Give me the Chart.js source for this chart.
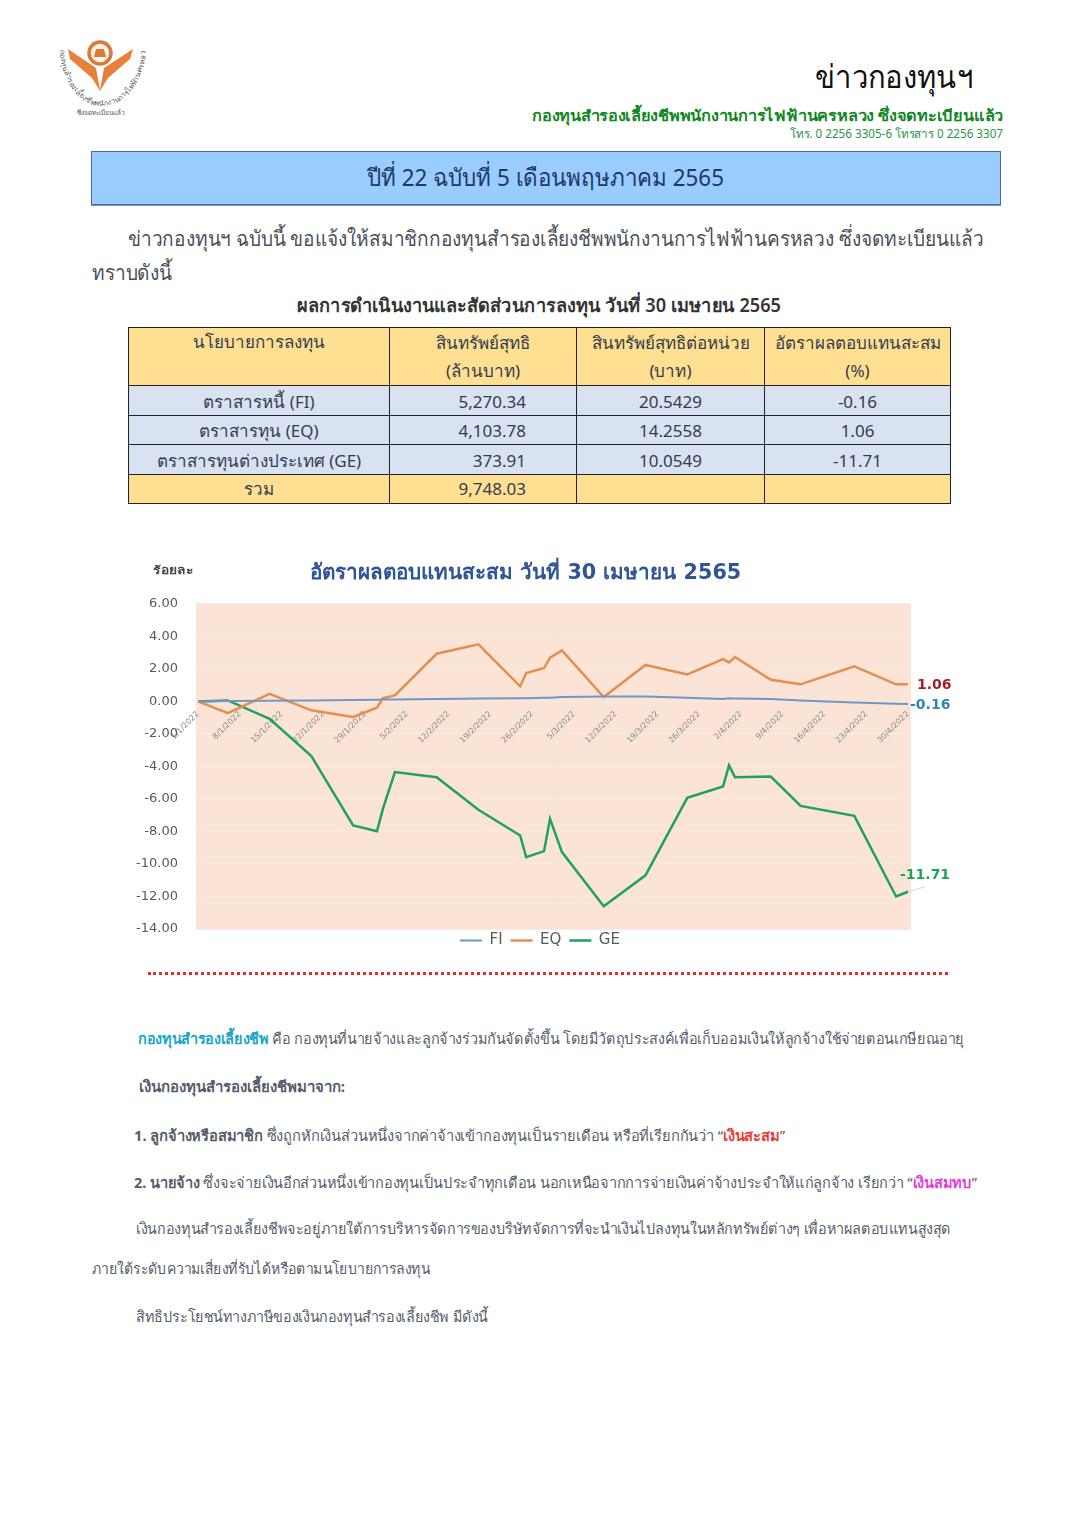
<!DOCTYPE html>
<html lang="th"><head><meta charset="utf-8">
<script src="https://cdn.jsdelivr.net/npm/chart.js@4"></script>
<style>
html,body{margin:0;padding:0;background:#fff;width:1076px;height:1521px;overflow:hidden;font-family:"Noto Sans","DejaVu Sans",sans-serif}
#page{position:relative;width:1076px;height:1521px;overflow:hidden}
.t{position:absolute;white-space:nowrap;line-height:1;transform-origin:0 50%;color:#4a4f57}
#banner{position:absolute;left:91px;top:151px;width:908px;height:52px;background:#99CCFF;border:1px solid #4A66AC;box-shadow:0 1px 0 #7f8fb5}
table{position:absolute;left:128px;top:327px;width:822px;height:176px;border-collapse:collapse;table-layout:fixed;color:#333c4d;font-size:17px}
td{border:1px solid #222;text-align:center;padding:1px 0 0;background:#D9E2F3;line-height:1;box-sizing:border-box}
tr.h td{background:#FFDF91;vertical-align:middle;line-height:28px;padding:0}
td.r{text-align:right;padding-right:50px}
tr.h td.r{padding:0 50px 0 0}
#dots{position:absolute;left:148px;top:972px;width:800px;border-top:3px dotted #E22B2B}
canvas{position:absolute;left:120px;top:550px}
svg{position:absolute;left:40px;top:30px}
</style></head><body><div id="page">
<svg width="120" height="95" viewBox="40 30 120 95">
 <defs><path id="arc" d="M60 50 C62 92 90 108 102 106 C118 106 142 92 146 50"/></defs>
 <circle cx="100" cy="53" r="11" fill="#fdf3e2" stroke="#D9793A" stroke-width="3.5"/>
 <path d="M94 57h12l-2-8h-8z" fill="#D9793A"/>
 <path d="M68 49 L96 68 L100 90 L104 68 L133 49 L130 59 L108 78 L100 91 L92 78 L70 59Z" fill="#E8803A"/>
 <text font-size="7.4" fill="#5a5a5a"><textPath href="#arc" startOffset="0">กองทุนสำรองเลี้ยงชีพพนักงานการไฟฟ้านครหลวง</textPath></text>
 <text x="101" y="115" font-size="6.5" text-anchor="middle" fill="#555">ซึ่งจดทะเบียนแล้ว</text>
</svg>
<div id="banner"></div>
<table>
<colgroup><col style="width:261px"><col style="width:187px"><col style="width:188px"><col style="width:186px"></colgroup>
<tr class="h" style="height:58px"><td style="vertical-align:top">นโยบายการลงทุน</td><td>สินทรัพย์สุทธิ<br>(ล้านบาท)</td><td>สินทรัพย์สุทธิต่อหน่วย<br>(บาท)</td><td>อัตราผลตอบแทนสะสม<br>(%)</td></tr>
<tr style="height:30px"><td>ตราสารหนี้ (FI)</td><td class="r">5,270.34</td><td>20.5429</td><td>-0.16</td></tr>
<tr style="height:29px"><td>ตราสารทุน (EQ)</td><td class="r">4,103.78</td><td>14.2558</td><td>1.06</td></tr>
<tr style="height:30px"><td>ตราสารทุนต่างประเทศ (GE)</td><td class="r">373.91</td><td>10.0549</td><td>-11.71</td></tr>
<tr class="h" style="height:29px"><td>รวม</td><td class="r">9,748.03</td><td></td><td></td></tr>
</table>
<div id="dots"></div>
<canvas id="c" width="840" height="417" style="width:840px;height:417px"></canvas>
</div>
<script>
// ---- chart data ----
const pointDays = [0,5,12,19,26,30,31,33,40,47,54,55,58,59,61,68,75,82,88,89,90,96,101,110,117,119];
const fiValues = [0,0.02,0.04,0.05,0.08,0.10,0.11,0.12,0.15,0.18,0.20,0.20,0.22,0.23,0.27,0.30,0.30,0.22,0.15,0.19,0.17,0.15,0.05,-0.07,-0.15,-0.16];
const eqValues = [0,-0.72,0.47,-0.55,-0.96,-0.39,0.20,0.37,2.93,3.51,0.92,1.74,2.05,2.69,3.14,0.27,2.24,1.66,2.60,2.40,2.73,1.33,1.05,2.15,1.05,1.06];
const geValues = [0,0.06,-1.07,-3.36,-7.63,-7.98,-6.60,-4.35,-4.66,-6.67,-8.25,-9.58,-9.21,-7.22,-9.27,-12.60,-10.70,-5.93,-5.23,-3.94,-4.66,-4.62,-6.43,-7.04,-12.00,-11.71];
const tickDays = [0,7,14,21,28,35,42,49,56,63,70,77,84,91,98,105,112,119];
const tickLabels = ["1/1/2022","8/1/2022","15/1/2022","22/1/2022","29/1/2022","5/2/2022","12/2/2022","19/2/2022","26/2/2022","5/3/2022","12/3/2022","19/3/2022","26/3/2022","2/4/2022","9/4/2022","16/4/2022","23/4/2022","30/4/2022"];
const seriesNames = ["FI","EQ","GE"];
const endLabels = ["-0.16","1.06","-11.71"];

// ---- page text ----
const page = document.getElementById('page');
function T(x0,x1,cy,size,html,css){
  const e=document.createElement('div');e.className='t';e.innerHTML=html;
  e.style.cssText=`left:${x0}px;font-size:${size}px;${css||''}`;
  page.appendChild(e);
  const h=e.getBoundingClientRect().height, w=e.getBoundingClientRect().width;
  e.style.top=(cy-h/2)+'px';
  e.style.transform=`scaleX(${(x1-x0)/w})`;
}
const B='#1F3864';
T(815,973,76,32,'ข่าวกองทุนฯ','color:#111');
T(532,1003,115,15,'กองทุนสำรองเลี้ยงชีพพนักงานการไฟฟ้านครหลวง ซึ่งจดทะเบียนแล้ว','color:#12871f;font-weight:700');
T(790,1003,134,12,'โทร. 0 2256 3305-6 โทรสาร 0 2256 3307','color:#2f9445');
T(367,724,177,24,'ปีที่ 22 ฉบับที่ 5 เดือนพฤษภาคม 2565','color:'+B);
T(128,984,238,21,'ข่าวกองทุนฯ ฉบับนี้ ขอแจ้งให้สมาชิกกองทุนสำรองเลี้ยงชีพพนักงานการไฟฟ้านครหลวง ซึ่งจดทะเบียนแล้ว');
T(92,172,272,21,'ทราบดังนี้');
T(297,781,305,19,'ผลการดำเนินงานและสัดส่วนการลงทุน วันที่ 30 เมษายน 2565','color:#333;font-weight:600');
T(153,193,569,11,'ร้อยละ','color:#444;font-weight:700');
const G='#555d6b';
T(138,964,1038,15,'<b style="color:#1AA6C8">กองทุนสำรองเลี้ยงชีพ</b> คือ กองทุนที่นายจ้างและลูกจ้างร่วมกันจัดตั้งขึ้น โดยมีวัตถุประสงค์เพื่อเก็บออมเงินให้ลูกจ้างใช้จ่ายตอนเกษียณอายุ','color:'+G);
T(139,345,1086,15,'<b>เงินกองทุนสำรองเลี้ยงชีพมาจาก:</b>','color:'+G);
T(134,785,1135,15,'<b>1. ลูกจ้างหรือสมาชิก</b> ซึ่งถูกหักเงินส่วนหนึ่งจากค่าจ้างเข้ากองทุนเป็นรายเดือน หรือที่เรียกกันว่า “<b style="color:#E2413B">เงินสะสม</b>”','color:'+G);
T(134,977,1182,15,'<b>2. นายจ้าง</b> ซึ่งจะจ่ายเงินอีกส่วนหนึ่งเข้ากองทุนเป็นประจำทุกเดือน นอกเหนือจากการจ่ายเงินค่าจ้างประจำให้แก่ลูกจ้าง เรียกว่า “<b style="color:#E040D8">เงินสมทบ</b>”','color:'+G);
T(136,951,1228,15,'เงินกองทุนสำรองเลี้ยงชีพจะอยู่ภายใต้การบริหารจัดการของบริษัทจัดการที่จะนำเงินไปลงทุนในหลักทรัพย์ต่างๆ เพื่อหาผลตอบแทนสูงสุด','color:'+G);
T(92,430,1268,15,'ภายใต้ระดับความเสี่ยงที่รับได้หรือตามนโยบายการลงทุน','color:'+G);
T(136,488,1316,15,'สิทธิประโยชน์ทางภาษีของเงินกองทุนสำรองเลี้ยงชีพ มีดังนี้','color:'+G);

// ---- chart ----
const FF='"DejaVu Sans","Noto Sans",sans-serif';
const colors=['#6F97C8','#E38F52','#20A25A'];
const widths=[2,2.5,2.5];
const toPts=a=>a.map((v,i)=>({x:pointDays[i],y:v}));
const plotBg={id:'plotBg',beforeDraw(ch){const a=ch.chartArea,c=ch.ctx;c.save();c.fillStyle='#FBE4D5';c.fillRect(a.left,a.top,a.width,a.height);c.restore();}};
const legendLift={id:'legendLift',afterLayout(ch){ch.legend.top-=4;ch.legend.bottom-=4;}};
const endText={id:'endText',afterDraw(ch){
  const c=ch.ctx,x=ch.scales.x,y=ch.scales.y;c.save();
  c.font='bold 14px '+FF;c.textBaseline='middle';c.textAlign='left';
  const last=pointDays[pointDays.length-1],px=x.getPixelForValue(last);
  c.fillStyle='#A01F2B';c.fillText(endLabels[1],px+9,y.getPixelForValue(eqValues[eqValues.length-1])+1);
  c.fillStyle='#2E86B5';c.fillText(endLabels[0],px+2,y.getPixelForValue(fiValues[fiValues.length-1])+1);
  c.fillStyle='#20A25A';c.fillText(endLabels[2],px-8,y.getPixelForValue(geValues[geValues.length-1])-16);
  const gy=y.getPixelForValue(geValues[geValues.length-1]);
  c.strokeStyle='#d8d8d8';c.lineWidth=1;c.beginPath();c.moveTo(px,gy);c.lineTo(px+17,gy-5);c.stroke();
  c.restore();}};
new Chart(document.getElementById('c'),{
 type:'line',
 data:{datasets:[fiValues,eqValues,geValues].map((d,i)=>({label:seriesNames[i],data:toPts(d),borderColor:colors[i],backgroundColor:colors[i],borderWidth:widths[i],pointRadius:0,tension:0}))},
 plugins:[plotBg,legendLift,endText],
 options:{responsive:false,animation:false,
  layout:{padding:{left:0,right:0,top:0,bottom:5}},
  plugins:{
   tooltip:{enabled:false},
   title:{display:true,text:'อัตราผลตอบแทนสะสม วันที่ 30 เมษายน 2565\u00A0\u00A0\u00A0\u00A0',color:'#2F5597',font:{family:FF,size:20.7,weight:'600'},padding:{top:11,bottom:18}},
   legend:{position:'bottom',labels:{color:'#595959',font:{family:FF,size:15},boxWidth:22,boxHeight:0,padding:8}}
  },
  scales:{
   x:{type:'linear',position:{y:0},min:-0.335,max:119.5,
      afterBuildTicks(s){s.ticks=tickDays.map(v=>({value:v}));},
      grid:{display:false},border:{display:false},
      ticks:{autoSkip:false,minRotation:45,maxRotation:45,padding:0,color:'#8a8a8a',font:{family:FF,size:8},
             callback:(v)=>tickLabels[tickDays.indexOf(v)]}},
   y:{min:-14,max:6,afterFit(s){s.width=76;},
      grid:{color:'#F8EADF',lineWidth:1,drawTicks:false},border:{display:false},
      ticks:{stepSize:2,padding:18,color:'#595959',font:{family:FF,size:13},callback:v=>v.toFixed(2)}},
   spacer:{axis:'y',position:'right',min:0,max:1,afterFit(s){s.width=49;},
      grid:{display:false},border:{display:false},ticks:{display:false}}
  }}
});
</script>
</body></html>
